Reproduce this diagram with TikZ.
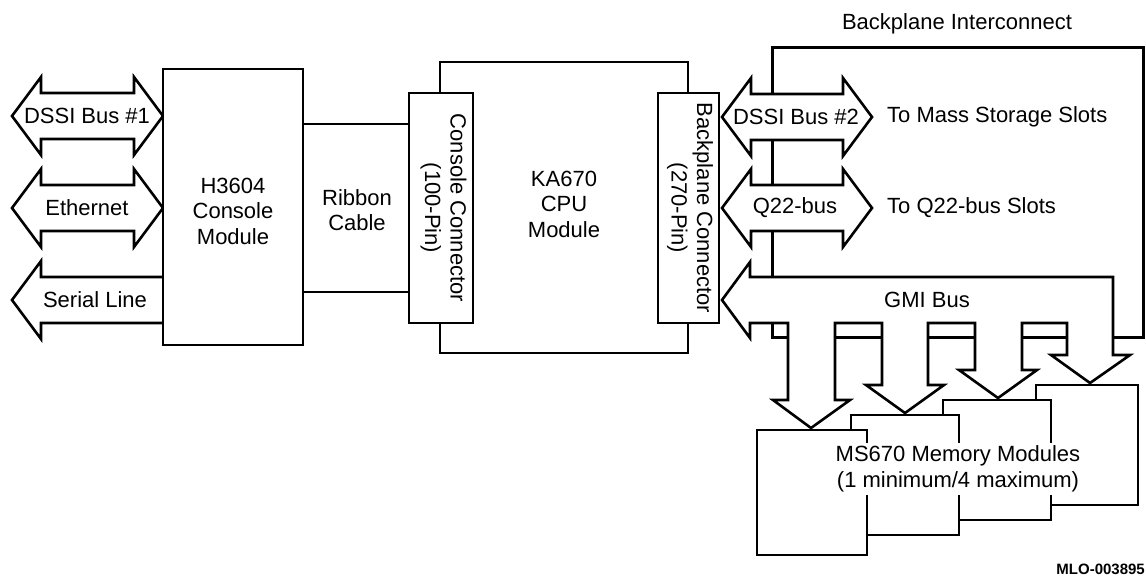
\documentclass[tikz,border=0pt]{standalone}
\usepackage{fontspec}
\setmainfont{Liberation Sans}
\usetikzlibrary{calc}

\tikzset{
  wire/.style={line width=2.6pt, line join=miter},
  modbox/.style={draw, line width=2.6pt, fill=white, inner sep=0pt},
  lbl/.style={font=\fontsize{22}{25.5}\selectfont, align=center, inner sep=1pt},
}

% double headed bus arrow: left tip x, right tip x, centre y
\newcommand{\dblbus}[3]{%
  \filldraw[wire, fill=white] (#1,#3) -- (#1+29,#3-39) -- (#1+29,#3-23)
    -- (#2-29,#3-23) -- (#2-29,#3-39) -- (#2,#3) -- (#2-29,#3+39)
    -- (#2-29,#3+23) -- (#1+29,#3+23) -- (#1+29,#3+39) -- cycle;}

\begin{document}
\begin{tikzpicture}[x=1pt, y=-1pt]
  \useasboundingbox (0,0) rectangle (1146,576);

  % Backplane Interconnect frame
  \draw[wire, line width=3pt] (772,47) rectangle (1143,337);
  \node[lbl] (bpic) at (957,24) {Backplane Interconnect};

  % Left side buses
  \dblbus{12}{163}{116}
  \node[lbl] (dssi1) at (87,116) {DSSI Bus \#1};
  \dblbus{12}{163}{208}
  \node[lbl] (ether) at (87,208) {Ethernet};
  \filldraw[wire, fill=white] (163,277) -- (41,277) -- (41,261) -- (12,300)
    -- (41,339) -- (41,323) -- (163,323);
  \node[lbl] (serial) at (95,300) {Serial Line};

  % H3604 Console Module
  \node[modbox, minimum width=140pt, minimum height=276pt] (h3604) at (233,207) {};
  \node[lbl] (h3604txt) at (233,211) {H3604\\Console\\Module};

  % KA670 CPU Module
  \node[modbox, minimum width=248pt, minimum height=291pt] (cpu) at (564,207.5) {};
  \node[lbl] (cputxt) at (564,204) {KA670\\CPU\\Module};

  % Connectors
  \node[modbox, minimum width=64pt, minimum height=230pt] (concon) at (441,208) {};
  \node[lbl, rotate=-90] (context) at (443.5,208) {Console Connector\\(100-Pin)};
  \node[modbox, minimum width=61pt, minimum height=230pt] (bpcon) at (688.5,208) {};
  \node[lbl, rotate=-90] (bpcontext) at (690,208) {Backplane Connector\\(270-Pin)};

  % Ribbon Cable
  \draw[wire] (h3604.east |- 0,124) -- (concon.west |- 0,124);
  \draw[wire] (h3604.east |- 0,292) -- (concon.west |- 0,292);
  \node[lbl] (ribbon) at (357,210) {Ribbon\\Cable};

  % Right side buses
  \dblbus{722}{872}{117}
  \node[lbl] (dssi2) at (796,117) {DSSI Bus \#2};
  \node[lbl, anchor=west] (tomass) at (886,117) {To Mass Storage Slots};
  \dblbus{722}{872}{208}
  \node[lbl] (q22) at (795,208) {Q22-bus};
  \node[lbl, anchor=west] (toq22) at (886,208) {To Q22-bus Slots};

  % MS670 Memory Modules
  \filldraw[wire, fill=white] (1036,385) rectangle (1138,505);
  \filldraw[wire, fill=white] (943,400) rectangle (1051,520);
  \filldraw[wire, fill=white] (851,415) rectangle (959,535);
  \filldraw[wire, fill=white] (757,430) rectangle (867,555);
  \node[lbl, fill=white, inner sep=3pt] (msmem) at (958,469)
    {MS670 Memory Modules\\(1 minimum/4 maximum)};

  % GMI Bus with branches to memory
  \filldraw[wire, fill=white] (722,300) -- (750,262) -- (750,277) -- (1113,277)
    -- (1113,355) -- (1130,355) -- (1090,383) -- (1051,355) -- (1067,355)
    -- (1067,323) -- (1022,323) -- (1022,370) -- (1037,370) -- (998,398)
    -- (959,370) -- (975,370) -- (975,323) -- (928,323) -- (928,385)
    -- (944,385) -- (905,413) -- (866,385) -- (882,385) -- (882,323)
    -- (835,323) -- (835,400) -- (850,400) -- (811,428) -- (773,400)
    -- (788,400) -- (788,323) -- (750,323) -- (750,338) -- cycle;
  \node[lbl] (gmi) at (927,300) {GMI Bus};

  % Figure id
  \node[font=\bfseries\fontsize{15}{15}\selectfont, anchor=base east, inner sep=0pt]
    (mlo) at (1145,574) {MLO-003895};

\end{tikzpicture}
\end{document}
